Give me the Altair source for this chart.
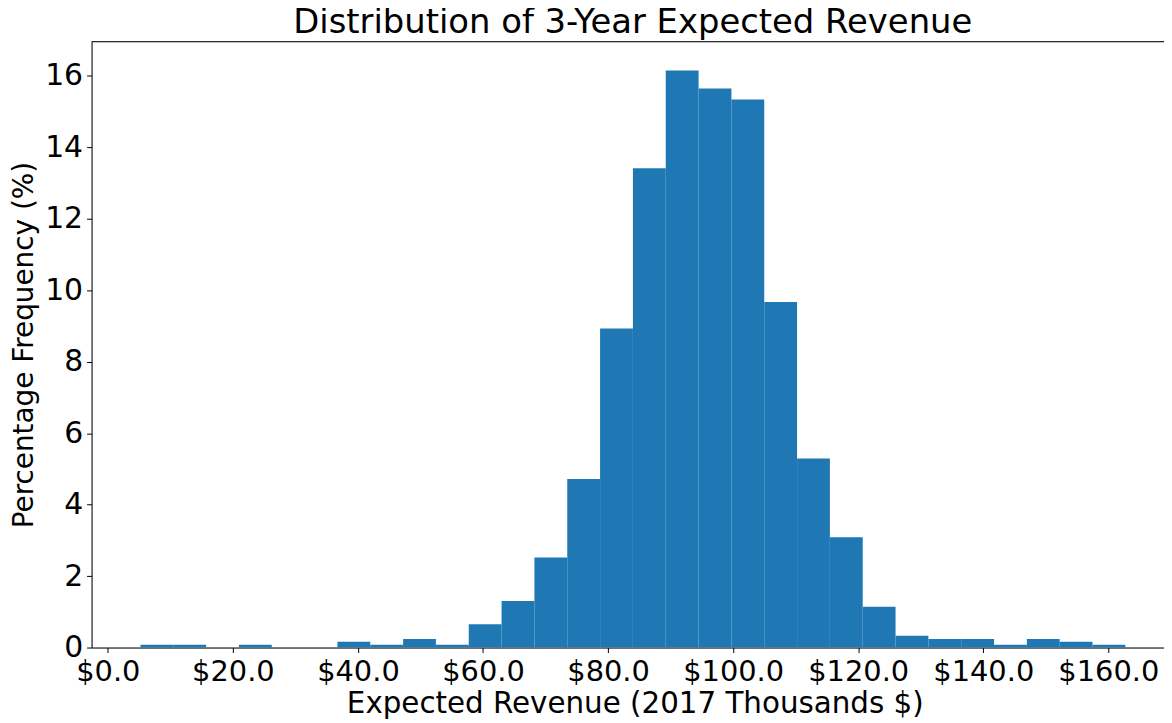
import altair as alt
import pandas as pd

# Histogram bin edges (thousands of 2017 $) and bar heights (percentage frequency)
bin_edges = [5.22, 10.47, 15.72, 20.97, 26.22, 31.47, 36.72, 41.97, 47.22, 52.47,
             57.72, 62.97, 68.22, 73.47, 78.72, 83.97, 89.22, 94.47, 99.72, 104.97,
             110.22, 115.47, 120.72, 125.97, 131.22, 136.47, 141.72, 146.97, 152.22,
             157.47, 162.72]
percent = [0.08, 0.08, 0.0, 0.08, 0.0, 0.0, 0.16, 0.08, 0.24, 0.08,
           0.65, 1.30, 2.52, 4.72, 8.93, 13.42, 16.15, 15.65, 15.34, 9.67,
           5.29, 3.09, 1.14, 0.33, 0.24, 0.24, 0.08, 0.24, 0.16, 0.08]
x_ticks = [0, 20, 40, 60, 80, 100, 120, 140, 160]
y_ticks = [0, 2, 4, 6, 8, 10, 12, 14, 16]
title_text = "Distribution of 3-Year Expected Revenue"

df = pd.DataFrame({
    "start": bin_edges[:-1],
    "end": bin_edges[1:],
    "pct": percent,
})

W, H = 1078, 609
FONT = "DejaVu Sans"

bars = alt.Chart(df).mark_rect(color="#1f77b4").encode(
    x=alt.X("start:Q",
            scale=alt.Scale(domain=[-2.6, 168.9], nice=False, zero=False),
            axis=alt.Axis(values=x_ticks,
                          labelExpr="'$' + format(datum.value, '.1f')",
                          title="Expected Revenue (2017 Thousands $)",
                          titleFontSize=29.5, titleFont=FONT, titleFontWeight="normal",
                          titleColor="black", titleBaseline="alphabetic",
                          titleY=65, titleX=546,
                          labelFontSize=29, labelFont=FONT, labelColor="black",
                          labelPadding=5, labelFlush=False, labelOverlap=False,
                          tickSize=5, tickColor="black", tickWidth=1,
                          domainColor="black", domainWidth=1, grid=False)),
    x2="end:Q",
    y=alt.Y("pct:Q",
            scale=alt.Scale(domain=[0, 16.96], nice=False),
            axis=alt.Axis(values=y_ticks, format="d",
                          title="Percentage Frequency (%)",
                          titleFontSize=28, titleFont=FONT, titleFontWeight="normal",
                          titleColor="black", titleBaseline="alphabetic",
                          titleX=-59,
                          labelFontSize=30, labelFont=FONT, labelColor="black",
                          labelPadding=4, labelFlush=False, labelOverlap=False,
                          tickSize=5, tickColor="black", tickWidth=1,
                          domainColor="black", domainWidth=1, grid=False)),
    y2=alt.datum(0),
)

one = pd.DataFrame({"a": [0]})

top_spine = alt.Chart(one).mark_rule(
    color="black", strokeWidth=1
).encode(x=alt.value(0), x2=alt.value(W), y=alt.value(0))

title = alt.Chart(one).mark_text(
    text=title_text, fontSize=34, font=FONT, color="black",
    align="center", baseline="alphabetic"
).encode(x=alt.value(W / 2 + 5), y=alt.value(-9))

chart = alt.layer(bars, top_spine, title).properties(
    width=W,
    height=H,
    autosize=alt.AutoSizeParams(type="none"),
    padding={"left": 84, "top": 32, "right": 0, "bottom": 74},
).configure_view(stroke=None).configure(background="white")

chart.save("out.html", embed_options={"renderer": "svg", "actions": False})
